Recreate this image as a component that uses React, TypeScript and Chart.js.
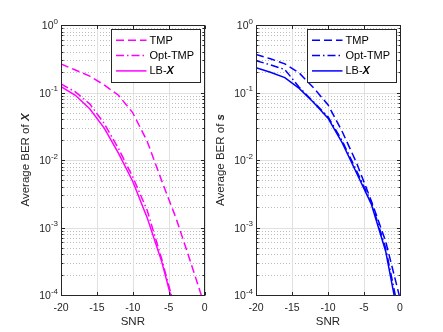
import React, { useEffect, useRef } from 'react';
import { Chart, registerables } from 'chart.js';

Chart.register(...registerables);

const FONT = '"Liberation Sans", Arial, Helvetica, sans-serif';
const AXIS_COLOR = '#262626';

// SNR grid (dB)
const snr = [-20, -18, -16, -14, -12, -10, -8, -6, -4, -2, 0];
const xTickValues = [-20, -15, -10, -5, 0];
const yDecades = [-4, -3, -2, -1, 0];
const legendNames = ['TMP', 'Opt-TMP', 'LB-'];
const legendBold = ['', '', 'X'];

// Left panel: Average BER of X
const berXTMP = [0.265, 0.215, 0.175, 0.13, 0.091, 0.05, 0.019, 0.005, 1.4e-3, 3.2e-4, 7e-5];
const berXOptTMP = [0.134, 0.102, 0.068, 0.035, 0.0148, 0.0056, 1.8e-3, 3.5e-4, 5.6e-5, null, null];
const berXLB = [0.122, 0.091, 0.0575, 0.03, 0.0126, 4.8e-3, 1.4e-3, 3.2e-4, 5e-5, null, null];

// Right panel: Average BER of s
const berSTMP = [0.367, 0.316, 0.266, 0.195, 0.117, 0.066, 0.026, 8.9e-3, 2.5e-3, 6.3e-4, 8.9e-5];
const berSOptTMP = [0.296, 0.257, 0.219, 0.12, 0.0724, 0.0437, 0.019, 6.8e-3, 2.4e-3, 5e-4, 4.5e-5];
const berSLB = [0.233, 0.2, 0.166, 0.115, 0.071, 0.0417, 0.0178, 6.3e-3, 2.24e-3, 4.5e-4, 3.5e-5];

const DASHES: number[][] = [[8, 4], [8, 3, 1.5, 3], []];

type PanelDef = {
  canvasLeft: number;
  width: number;
  yAxisWidth: number;
  padRight: number;
  color: string;
  series: (number | null)[][];
  titleBold: string;
  titleX: number;
};

const panels: PanelDef[] = [
  {
    canvasLeft: 0,
    width: 214,
    yAxisWidth: 61,
    padRight: 9,
    color: '#ff00ff',
    series: [berXTMP, berXOptTMP, berXLB],
    titleBold: 'X',
    titleX: 25.5,
  },
  {
    canvasLeft: 212,
    width: 231,
    yAxisWidth: 44,
    padRight: 43,
    color: '#0000ff',
    series: [berSTMP, berSOptTMP, berSLB],
    titleBold: 's',
    titleX: 8.5,
  },
];

const HEIGHT = 332;

function line(ctx: CanvasRenderingContext2D, x1: number, y1: number, x2: number, y2: number) {
  ctx.beginPath();
  ctx.moveTo(x1, y1);
  ctx.lineTo(x2, y2);
  ctx.stroke();
}

function makePlugin(p: PanelDef) {
  return {
    id: 'matlabLook',
    beforeDatasetsDraw(chart: any) {
      const { ctx, chartArea: a, scales } = chart;
      const x = scales.x;
      const y = scales.y;
      ctx.save();
      ctx.lineWidth = 1;
      // minor grid (dotted)
      ctx.strokeStyle = '#bdbdbd';
      ctx.setLineDash([1, 2]);
      for (const d of yDecades) {
        if (d >= 0) continue;
        for (let m = 2; m <= 9; m++) {
          const py = Math.round(y.getPixelForValue(m * Math.pow(10, d))) + 0.5;
          line(ctx, a.left, py, a.right, py);
        }
      }
      // major grid
      ctx.setLineDash([]);
      ctx.strokeStyle = '#e0e0e0';
      for (const d of yDecades) {
        const py = Math.round(y.getPixelForValue(Math.pow(10, d))) + 0.5;
        line(ctx, a.left, py, a.right, py);
      }
      for (const v of xTickValues) {
        const px = Math.round(x.getPixelForValue(v)) + 0.5;
        line(ctx, px, a.top, px, a.bottom);
      }
      ctx.restore();
    },
    afterDatasetsDraw(chart: any) {
      const { ctx, chartArea: a, scales } = chart;
      const x = scales.x;
      const y = scales.y;
      ctx.save();
      ctx.setLineDash([]);
      ctx.lineWidth = 1;
      ctx.strokeStyle = AXIS_COLOR;
      const L = Math.floor(a.left) + 0.5;
      const R = Math.floor(a.right) + 0.5;
      const T = Math.floor(a.top) + 0.5;
      const B = Math.floor(a.bottom) + 0.5;
      ctx.strokeRect(L, T, R - L, B - T);
      // y ticks (inside, both sides)
      for (const d of yDecades) {
        for (let m = 1; m <= 9; m++) {
          if (d >= 0 && m > 1) continue;
          const py = Math.round(y.getPixelForValue(m * Math.pow(10, d))) + 0.5;
          const len = m === 1 ? 3.5 : 2;
          line(ctx, L, py, L + len, py);
          line(ctx, R, py, R - len, py);
        }
      }
      // x ticks
      for (const v of xTickValues) {
        const px = Math.round(x.getPixelForValue(v)) + 0.5;
        line(ctx, px, B, px, B - 3.5);
        line(ctx, px, T, px, T + 3.5);
      }
      // y tick labels 10^d
      ctx.fillStyle = AXIS_COLOR;
      ctx.textBaseline = 'middle';
      ctx.textAlign = 'left';
      for (const d of yDecades) {
        const py = y.getPixelForValue(Math.pow(10, d));
        const e = String(d);
        ctx.font = `8px ${FONT}`;
        const ew = ctx.measureText(e).width;
        ctx.font = `10.5px ${FONT}`;
        const bw = ctx.measureText('10').width;
        const xs = a.left - 3 - ew - bw;
        ctx.fillText('10', xs, py + 1.5);
        ctx.font = `8px ${FONT}`;
        ctx.fillText(e, xs + bw, py - 3.5);
      }
      // x title
      ctx.font = `11.5px ${FONT}`;
      ctx.textAlign = 'center';
      ctx.fillText('SNR', (a.left + a.right) / 2, 322);
      // y title
      ctx.save();
      ctx.translate(p.titleX, (a.top + a.bottom) / 2);
      ctx.rotate(-Math.PI / 2);
      ctx.textAlign = 'left';
      const t1 = 'Average BER of ';
      ctx.font = `11.5px ${FONT}`;
      const w1 = ctx.measureText(t1).width;
      ctx.font = `italic bold 11.5px ${FONT}`;
      const w2 = ctx.measureText(p.titleBold).width;
      const sx = -(w1 + w2) / 2;
      ctx.font = `11.5px ${FONT}`;
      ctx.fillText(t1, sx, 0);
      ctx.font = `italic bold 11.5px ${FONT}`;
      ctx.fillText(p.titleBold, sx + w1, 0);
      ctx.restore();
      // legend
      const lw = 89;
      const lh = 53;
      const lx = Math.round(a.right - 93.5) + 0.5;
      const ly = Math.round(a.top + 4) + 0.5;
      ctx.fillStyle = '#ffffff';
      ctx.fillRect(lx, ly, lw, lh);
      ctx.strokeStyle = AXIS_COLOR;
      ctx.strokeRect(lx, ly, lw, lh);
      const rows = [10.7, 26, 41.4];
      for (let i = 0; i < 3; i++) {
        const ry = ly + rows[i];
        ctx.strokeStyle = p.color;
        ctx.lineWidth = 1.5;
        ctx.setLineDash(DASHES[i]);
        line(ctx, lx + 4.5, ry, lx + 35, ry);
        ctx.setLineDash([]);
        ctx.fillStyle = '#000000';
        ctx.textBaseline = 'middle';
        ctx.textAlign = 'left';
        ctx.font = `11px ${FONT}`;
        ctx.fillText(legendNames[i], lx + 38, ry + 0.5);
        if (legendBold[i]) {
          const w = ctx.measureText(legendNames[i]).width;
          ctx.font = `italic bold 11px ${FONT}`;
          ctx.fillText(legendBold[i], lx + 38 + w, ry + 0.5);
        }
      }
      ctx.restore();
    },
  };
}

function makeConfig(p: PanelDef): any {
  return {
    type: 'line',
    data: {
      datasets: p.series.map((s, i) => ({
        label: legendNames[i] + legendBold[i],
        data: snr.map((v, k) => ({ x: v, y: s[k] })),
        borderColor: p.color,
        backgroundColor: p.color,
        borderWidth: 1.5,
        borderDash: DASHES[i],
        pointRadius: 0,
        tension: 0,
        fill: false,
        spanGaps: false,
      })),
    },
    options: {
      animation: false,
      responsive: false,
      maintainAspectRatio: false,
      devicePixelRatio: 1,
      layout: { padding: { left: 0, right: p.padRight, top: 25, bottom: 0 } },
      plugins: { legend: { display: false }, tooltip: { enabled: false }, title: { display: false } },
      scales: {
        x: {
          type: 'linear',
          min: -20,
          max: 0,
          afterFit: (s: any) => {
            s.height = 37;
          },
          afterBuildTicks: (s: any) => {
            s.ticks = xTickValues.map((v) => ({ value: v }));
          },
          grid: { display: false, drawTicks: false },
          border: { display: false },
          ticks: {
            font: { family: FONT, size: 10.5 },
            color: AXIS_COLOR,
            padding: 6.5,
            maxRotation: 0,
            autoSkip: false,
          },
        },
        y: {
          type: 'logarithmic',
          min: 1e-4,
          max: 1,
          afterFit: (s: any) => {
            s.width = p.yAxisWidth;
          },
          grid: { display: false, drawTicks: false },
          border: { display: false },
          ticks: { display: false },
        },
      },
    },
    plugins: [makePlugin(p)],
  };
}

export default function App() {
  const leftRef = useRef<HTMLCanvasElement | null>(null);
  const rightRef = useRef<HTMLCanvasElement | null>(null);

  useEffect(() => {
    const charts: Chart[] = [];
    const refs = [leftRef.current, rightRef.current];
    refs.forEach((c, i) => {
      if (c) charts.push(new Chart(c, makeConfig(panels[i])));
    });
    return () => charts.forEach((ch) => ch.destroy());
  }, []);

  return (
    <div style={{ position: 'fixed', left: 0, top: 0, width: 443, height: HEIGHT, background: '#ffffff' }}>
      {panels.map((p, i) => (
        <canvas
          key={i}
          ref={i === 0 ? leftRef : rightRef}
          width={p.width}
          height={HEIGHT}
          style={{ position: 'absolute', left: p.canvasLeft, top: 0, width: p.width, height: HEIGHT }}
        />
      ))}
    </div>
  );
}
